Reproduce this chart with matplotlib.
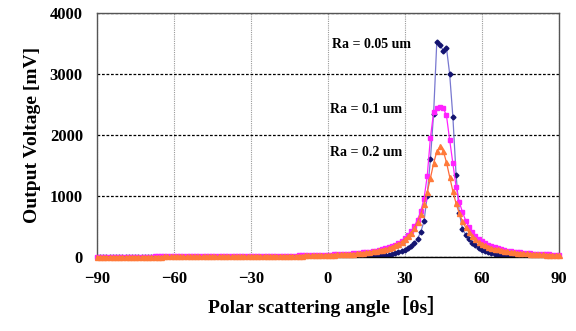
import numpy as np
import matplotlib
matplotlib.use('agg')
import matplotlib.pyplot as plt

# measurement angles, 1.25 deg steps from -90 to 90
angles = np.arange(-90, 90.01, 1.25)

# Ra = 0.05 um
ra005 = [1, 1, 1, 1, 1, 1, 1, 1, 1, 1,
         1, 1, 1, 1, 1, 1, 1, 1, 1, 1,
         1, 1, 1, 1, 1, 2, 2, 2, 2, 2,
         2, 2, 2, 2, 2, 2, 2, 2, 2, 2,
         2, 2, 2, 2, 2, 2, 3, 3, 3, 3,
         3, 3, 3, 3, 3, 3, 3, 3, 3, 4,
         4, 4, 4, 4, 4, 4, 4, 4, 4, 4,
         4, 4, 4, 4, 5, 5, 5, 5, 5, 5,
         5, 6, 7, 8, 9, 11, 13, 16, 20, 25,
         31, 38, 47, 58, 72, 90, 112,
         140, 175, 220, 300, 410, 580, 1000, 1600,
         2350, 3530, 3480, 3380, 3430, 3000, 2300,
         1350, 720, 460, 360, 290, 235, 190, 150,
         120, 95, 75, 60, 48, 38, 30, 24,
         19, 15, 12, 10, 8, 7, 6, 5,
         5, 4, 4, 3, 3, 3, 3, 2, 2]

# Ra = 0.1 um
ra01 = [4, 4, 4, 4, 4, 4, 4, 4, 5, 5,
        5, 5, 5, 5, 5, 5, 5, 5, 6, 6,
        6, 6, 6, 6, 6, 7, 7, 7, 7, 7,
        7, 8, 8, 8, 8, 9, 9, 9, 9, 10,
        10, 10, 10, 11, 11, 11, 12, 12, 13, 13,
        14, 14, 15, 15, 16, 16, 17, 18, 18, 19,
        20, 21, 22, 23, 24, 25, 26, 27, 29, 30,
        32, 33, 35, 37, 40, 42, 45, 48, 51, 54,
        58, 63, 68, 73, 79, 86, 94, 103, 113, 126,
        140, 156, 175, 197, 226, 259, 301,
        352, 419, 502, 610, 752, 950, 1320, 1950,
        2370, 2440, 2450, 2440, 2320, 1920, 1540,
        1150, 900, 733, 596, 491, 410, 346, 296,
        255, 222, 195, 173, 154, 138, 124, 112,
        102, 93, 85, 78, 72, 67, 62, 58,
        54, 50, 47, 44, 42, 39, 37, 35, 33]

# Ra = 0.2 um
ra02 = [4, 4, 4, 4, 4, 4, 4, 4, 4, 4,
        4, 5, 5, 5, 5, 5, 5, 5, 5, 5,
        5, 6, 6, 6, 6, 6, 6, 6, 7, 7,
        7, 7, 7, 8, 8, 8, 8, 8, 9, 9,
        9, 10, 10, 10, 10, 11, 11, 11, 12, 12,
        13, 13, 14, 14, 15, 15, 16, 17, 17, 18,
        19, 19, 20, 21, 22, 23, 24, 26, 27, 28,
        30, 32, 33, 35, 37, 40, 42, 45, 48, 52,
        55, 60, 64, 69, 75, 82, 90, 98, 108, 120,
        133, 149, 167, 189, 216, 249, 288,
        337, 398, 475, 575, 701, 861, 1060, 1289,
        1533, 1729, 1810, 1740, 1551, 1311, 1077,
        876, 712, 583, 483, 404, 341, 291, 251,
        218, 191, 169, 150, 134, 121, 109, 99,
        90, 83, 76, 70, 65, 60, 56, 52,
        48, 45, 42, 40, 38, 35, 33, 32, 30]

labels = ['Ra = 0.05 um', 'Ra = 0.1 um', 'Ra = 0.2 um']
label_pos = [(1.5, 3475), (0.8, 2410), (0.8, 1705)]
xticks = [-90, -60, -30, 0, 30, 60, 90]
yticks = [0, 1000, 2000, 3000, 4000]

plt.rcParams['font.family'] = ['Liberation Serif', 'DejaVu Serif']
plt.rcParams['font.weight'] = 'bold'

fig = plt.figure(figsize=(5.76, 3.31), dpi=100)
ax = fig.add_axes([0.168, 0.224, 0.802, 0.737])

# navy underneath so the tails show the pink/orange band
ax.plot(angles, ra005, color='#7878d0', lw=0.9, marker='D', ms=2.5, mec='#141470', mfc='#141470',
        zorder=2)
ax.plot(angles, ra01, color='#ff22ff', lw=0.9, marker='s', ms=3.4, mec='#ff22ff', mfc='#ff22ff',
        zorder=3, clip_on=False)
ax.plot(angles, ra02, color='#ff6a3a', lw=0.9, marker='^', ms=3.6, mec='#ff7a3a', mfc='#ff7a3a',
        zorder=4, clip_on=False)

for txt, (x, y) in zip(labels, label_pos):
    ax.text(x, y, txt, fontsize=10, fontweight='bold', ha='left', va='center', zorder=6)

ax.set_xlim(-90, 90)
ax.set_ylim(0, 4000)
ax.set_xticks(xticks)
ax.set_yticks(yticks)
ax.tick_params(length=0, labelsize=12, pad=10)
for lab in ax.get_xticklabels() + ax.get_yticklabels():
    lab.set_fontweight('bold')

ax.yaxis.grid(True, color='black', linestyle=(0, (2.2, 1.4)), linewidth=0.9)
ax.xaxis.grid(True, color='#9a9a9a', linestyle=(0, (1, 1)), linewidth=0.8)
ax.set_axisbelow(True)
for s in ax.spines.values():
    s.set_color('#555555')
    s.set_linewidth(1.0)
ax.spines['bottom'].set_color('black')

ax.set_ylabel('Output Voltage [mV]', fontsize=14, fontweight='bold', labelpad=6)
ax.set_xlabel('Polar scattering angle［θs］', fontsize=14, fontweight='bold', labelpad=7,
              family=['Liberation Serif', 'Noto Sans CJK JP'])

fig.savefig('out.png', dpi=100)
